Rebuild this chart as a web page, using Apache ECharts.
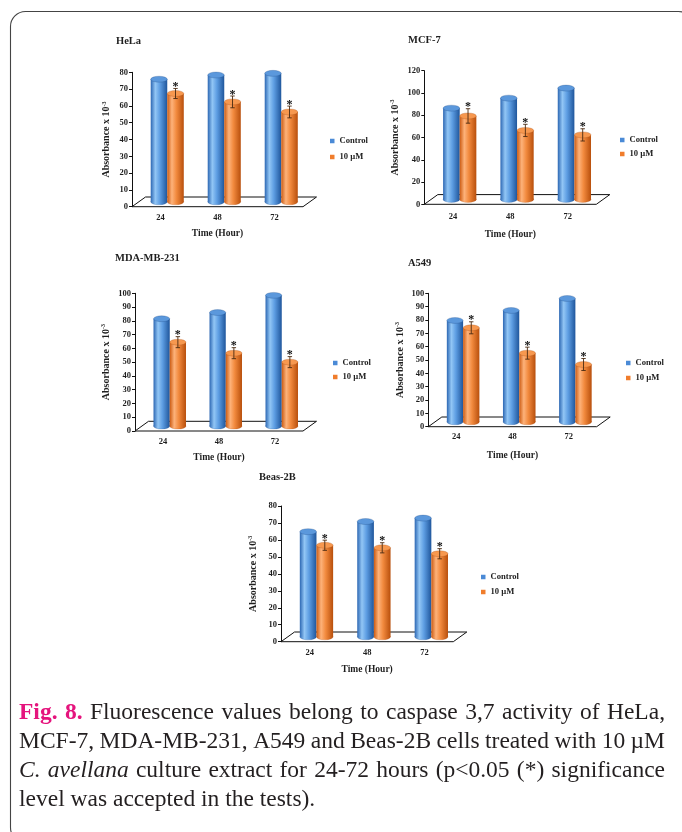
<!DOCTYPE html>
<html>
<head>
<meta charset="utf-8">
<script src="https://cdn.jsdelivr.net/npm/echarts@6.0.0/dist/echarts.min.js"></script>
<style>
  html, body { margin: 0; padding: 0; background: #ffffff; }
  #chart { width: 682px; height: 832px; }
</style>
</head>
<body>
<div id="chart"></div>
<script>
// ---- data (absorbance x 10^-3, mean and error) ----
const hours = ['24', '48', '72'];
const legendNames = ['Control', '10 µM'];

const helaControl = [73, 75.5, 76.5];
const helaTreated = [64.5, 59.5, 53.5];
const helaError = [3, 3.5, 3.5];

const mcf7Control = [82, 91, 100];
const mcf7Treated = [75, 62, 58];
const mcf7Error = [6.5, 5.5, 5.5];

const mdaControl = [78, 82.5, 95];
const mdaTreated = [61, 53, 46.5];
const mdaError = [4, 4, 4];

const a549Control = [76, 83.5, 92.5];
const a549Treated = [70.5, 51.5, 43];
const a549Error = [4.5, 4.5, 4.5];

const beasControl = [62, 68, 70];
const beasTreated = [54, 52.5, 49];
const beasError = [3, 3, 3];

// ---- panel layout ----
const panels = [
  { title: 'HeLa', control: helaControl, treated: helaTreated, err: helaError, max: 80, interval: 10,
    grid: [132, 72.3, 171, 134.4], titlePos: [116, 36], legendPos: [330, 136, 6], yGap: 20, xGap: 22, xMargin: 7 },
  { title: 'MCF-7', control: mcf7Control, treated: mcf7Treated, err: mcf7Error, max: 120, interval: 20,
    grid: [424.3, 70.7, 172, 133.6], titlePos: [408, 35], legendPos: [620, 135, 4], yGap: 23.5, xGap: 25, xMargin: 8 },
  { title: 'MDA-MB-231', control: mdaControl, treated: mdaTreated, err: mdaError, max: 100, interval: 10,
    grid: [135, 293.3, 168, 137.7], titlePos: [115, 253], legendPos: [333, 358, 4], yGap: 23.5, xGap: 22, xMargin: 6 },
  { title: 'A549', control: a549Control, treated: a549Treated, err: a549Error, max: 100, interval: 10,
    grid: [428.3, 293.3, 168.4, 133.4], titlePos: [408, 258], legendPos: [626, 358, 5], yGap: 22.5, xGap: 23.5, xMargin: 6 },
  { title: 'Beas-2B', control: beasControl, treated: beasTreated, err: beasError, max: 80, interval: 10,
    grid: [281, 506, 172.3, 135.7], titlePos: [259, 472], legendPos: [481, 572, 5], yGap: 22.5, xGap: 23, xMargin: 7 }
];

// 3D depth of the floor (pixels)
const DEPTH_X = 13.5;
const DEPTH_Y = 9.7;
const BAR_FRAC = 0.29;
const SERIF = '"Liberation Serif", "Times New Roman", serif';
const INK = '#1e1e1e';

const blueBody = { type: 'linear', x: 0, y: 0, x2: 1, y2: 0, colorStops: [
  { offset: 0, color: '#2c67b3' }, { offset: 0.28, color: '#92c6f5' },
  { offset: 0.55, color: '#5e9ee3' }, { offset: 1, color: '#1f569c' } ] };
const orangeBody = { type: 'linear', x: 0, y: 0, x2: 1, y2: 0, colorStops: [
  { offset: 0, color: '#cc5b12' }, { offset: 0.28, color: '#fdb27a' },
  { offset: 0.55, color: '#f28a3e' }, { offset: 1, color: '#b84f0c' } ] };
const blueTop = '#5b98dc';
const orangeTop = '#f7984f';

function cylinderRenderer(kind, withError) {
  return function (params, api) {
    const cat = api.value(0);
    const val = api.value(1);
    const err = api.value(2);
    const base = api.coord([cat, 0]);
    const top = api.coord([cat, val]);
    const band = api.size([1, 0])[0];
    const w = band * BAR_FRAC;
    const rx = w / 2;
    const ry = rx * 0.36;
    const cx = base[0] + DEPTH_X / 2 + (kind === 0 ? -rx : rx);
    const yb = base[1] - DEPTH_Y / 2;
    const yt = top[1] - DEPTH_Y / 2;
    const body = kind === 0 ? blueBody : orangeBody;
    const cap = kind === 0 ? blueTop : orangeTop;
    const edge = kind === 0 ? 'rgba(20,60,120,0.45)' : 'rgba(150,60,10,0.45)';
    const children = [
      { type: 'circle', x: cx, y: yb, scaleY: ry / rx, shape: { cx: 0, cy: 0, r: rx },
        style: { fill: body, stroke: edge, lineWidth: 0.6 } },
      { type: 'rect', shape: { x: cx - rx, y: yt, width: w, height: yb - yt },
        style: { fill: body } },
      { type: 'circle', x: cx, y: yt, scaleY: ry / rx, shape: { cx: 0, cy: 0, r: rx },
        style: { fill: cap, stroke: edge, lineWidth: 0.8 } }
    ];
    if (withError) {
      const errPx = base[1] - api.coord([cat, err])[1];
      const eTop = yt - errPx;
      const eBot = yt + errPx;
      const errStyle = { stroke: '#4a2a12', lineWidth: 0.9 };
      children.push(
        { type: 'line', shape: { x1: cx, y1: eTop, x2: cx, y2: eBot }, style: errStyle },
        { type: 'line', shape: { x1: cx - 2.2, y1: eTop, x2: cx + 2.2, y2: eTop }, style: errStyle },
        { type: 'line', shape: { x1: cx - 2.2, y1: eBot, x2: cx + 2.2, y2: eBot }, style: errStyle },
        { type: 'text', x: cx, y: eTop - 7.5,
          style: { text: '*', fill: '#111', fontFamily: SERIF, fontWeight: 'bold', fontSize: 12,
                   align: 'center', verticalAlign: 'top' } }
      );
    }
    return { type: 'group', children: children };
  };
}

function floorRenderer(params) {
  const cs = params.coordSys;
  const x0 = cs.x, x1 = cs.x + cs.width, y0 = cs.y + cs.height;
  return {
    type: 'polygon',
    shape: { points: [[x0, y0], [x1, y0], [x1 + DEPTH_X, y0 - DEPTH_Y], [x0 + DEPTH_X, y0 - DEPTH_Y]] },
    style: { fill: '#ffffff', stroke: '#111', lineWidth: 1 }
  };
}

const grids = [], xAxes = [], yAxes = [], series = [], titles = [], legends = [];

panels.forEach(function (p, i) {
  grids.push({ left: p.grid[0], top: p.grid[1], width: p.grid[2], height: p.grid[3],
               containLabel: false, outerBoundsMode: 'none' });
  xAxes.push({
    type: 'category', gridIndex: i, data: hours,
    name: 'Time (Hour)', nameLocation: 'middle', nameGap: p.xGap,
    nameTextStyle: { fontFamily: SERIF, fontWeight: 'bold', fontSize: 9.5, color: INK },
    axisLine: { show: false }, axisTick: { show: false },
    axisLabel: { fontFamily: SERIF, fontWeight: 'bold', fontSize: 8.5, color: INK, margin: p.xMargin }
  });
  yAxes.push({
    type: 'value', gridIndex: i, min: 0, max: p.max, interval: p.interval,
    name: 'Absorbance x 10{s|-3}', nameLocation: 'middle', nameGap: p.yGap,
    nameTextStyle: { fontFamily: SERIF, fontWeight: 'bold', fontSize: 10, color: INK,
      rich: { s: { fontFamily: SERIF, fontWeight: 'bold', fontSize: 6, color: INK, verticalAlign: 'top', padding: [0, 0, 5, 0] } } },
    axisLine: { show: true, lineStyle: { color: '#111', width: 1 } },
    axisTick: { show: true, length: 3, lineStyle: { color: '#111', width: 1 } },
    splitLine: { show: false },
    axisLabel: { fontFamily: SERIF, fontWeight: 'bold', fontSize: 8.5, color: INK, margin: 4 }
  });
  series.push({
    type: 'custom', name: 'floor', xAxisIndex: i, yAxisIndex: i, z: 1, silent: true,
    data: [[0, 0]], renderItem: floorRenderer
  });
  series.push({
    type: 'custom', name: legendNames[0], xAxisIndex: i, yAxisIndex: i, z: 2,
    itemStyle: { color: '#4a8ad6' },
    encode: { x: 0, y: 1 },
    data: p.control.map(function (v, k) { return [k, v, 0]; }),
    renderItem: cylinderRenderer(0, false)
  });
  series.push({
    type: 'custom', name: legendNames[1], xAxisIndex: i, yAxisIndex: i, z: 3,
    itemStyle: { color: '#f07d2c' },
    encode: { x: 0, y: 1 },
    data: p.treated.map(function (v, k) { return [k, v, p.err[k]]; }),
    renderItem: cylinderRenderer(1, true)
  });
  titles.push({
    text: p.title, left: p.titlePos[0], top: p.titlePos[1], padding: 0,
    textStyle: { fontFamily: SERIF, fontWeight: 'bold', fontSize: 10.5, color: INK }
  });
  legends.push({
    data: legendNames, orient: 'vertical', left: p.legendPos[0], top: p.legendPos[1],
    itemGap: p.legendPos[2], itemWidth: 4.5, itemHeight: 4.5, icon: 'rect', padding: 0,
    selectedMode: false,
    textStyle: { fontFamily: SERIF, fontWeight: 'bold', fontSize: 8.6, color: INK, lineHeight: 10 }
  });
});

// ---- figure caption, set as justified lines ----
const CAPTION_SIZE = 23.5;
const CAPTION_SCALE_X = 1;
const CAPTION_LEFT = 19;
const CAPTION_RIGHT = 665;
const CAPTION_LINE_Y = [713, 742, 771, 800];
const captionLines = [
  { justify: true, words: [['Fig.', 'fig'], ['8.', 'fig'], 'Fluorescence', 'values', 'belong', 'to', 'caspase', '3,7', 'activity', 'of', 'HeLa,'] },
  { justify: true, words: ['MCF-7,', 'MDA-MB-231,', 'A549', 'and', 'Beas-2B', 'cells', 'treated', 'with', '10', 'µM'] },
  { justify: true, words: [['C.', 'it'], ['avellana', 'it'], 'culture', 'extract', 'for', '24-72', 'hours', '(p<0.05', '(*)', 'significance'] },
  { justify: false, words: ['level', 'was', 'accepted', 'in', 'the', 'tests).'] }
];

const measureCtx = document.createElement('canvas').getContext('2d');
function wordStyle(kind) {
  if (kind === 'fig') return { fontWeight: 'bold', fontStyle: 'normal', fill: '#e5147d' };
  if (kind === 'it') return { fontWeight: 'normal', fontStyle: 'italic', fill: '#231f20' };
  return { fontWeight: 'normal', fontStyle: 'normal', fill: '#231f20' };
}
function measure(text, st) {
  measureCtx.font = st.fontStyle + ' ' + st.fontWeight + ' ' + CAPTION_SIZE + 'px "Liberation Serif"';
  return measureCtx.measureText(text).width * CAPTION_SCALE_X;
}

const captionGraphics = [];
captionLines.forEach(function (line, li) {
  const tokens = line.words.map(function (w) {
    const text = Array.isArray(w) ? w[0] : w;
    const st = wordStyle(Array.isArray(w) ? w[1] : '');
    return { text: text, st: st, width: measure(text, st) };
  });
  const total = tokens.reduce(function (s, t) { return s + t.width; }, 0);
  const space = measure(' ', wordStyle(''));
  const gap = line.justify ? (CAPTION_RIGHT - CAPTION_LEFT - total) / (tokens.length - 1) : space;
  let x = CAPTION_LEFT;
  tokens.forEach(function (t) {
    captionGraphics.push({
      type: 'text', x: x, y: CAPTION_LINE_Y[li], scaleX: CAPTION_SCALE_X, silent: true,
      style: { text: t.text, fill: t.st.fill, fontFamily: '"Liberation Serif", serif', fontSize: CAPTION_SIZE,
               fontWeight: t.st.fontWeight, fontStyle: t.st.fontStyle, verticalAlign: 'middle', align: 'left' }
    });
    x += t.width + gap;
  });
});

const chart = echarts.init(document.getElementById('chart'), null, { renderer: 'canvas' });
chart.setOption({
  backgroundColor: '#ffffff',
  animation: false,
  title: titles,
  legend: legends,
  grid: grids,
  xAxis: xAxes,
  yAxis: yAxes,
  series: series,
  graphic: [
    { type: 'rect', silent: true, z: 100,
      shape: { x: 10.5, y: 11.5, width: 683, height: 831, r: 15 },
      style: { fill: 'none', stroke: '#444', lineWidth: 1.1 } }
  ].concat(captionGraphics)
});
</script>
</body>
</html>
